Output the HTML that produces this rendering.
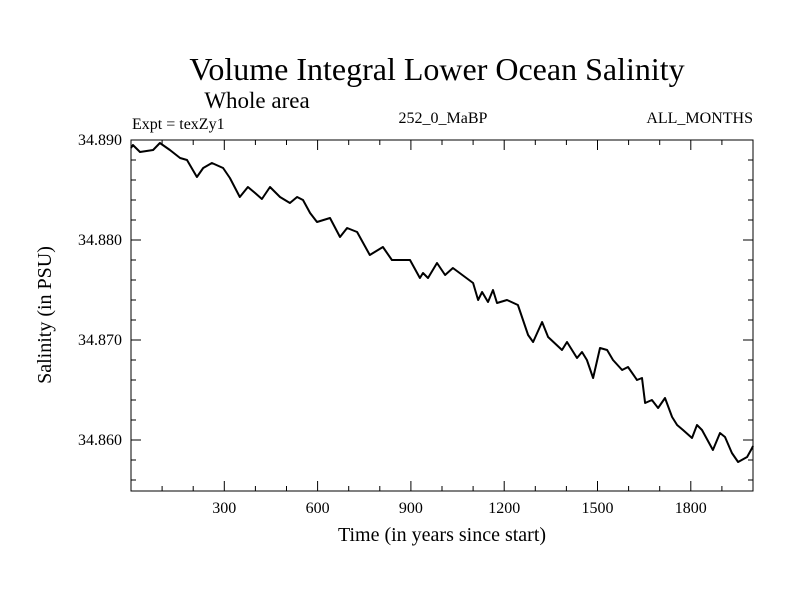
<!DOCTYPE html>
<html><head><meta charset="utf-8"><style>
body{margin:0;background:#fff}
svg{display:block;font-family:"Liberation Serif",serif}
</style></head><body>
<svg id="chart" width="800" height="600">
<rect width="800" height="600" fill="#fff"/>
<text x="437" y="80" font-size="32" text-anchor="middle">Volume Integral Lower Ocean Salinity</text>
<text x="257" y="108" font-size="23" text-anchor="middle">Whole area</text>
<text x="132" y="129" font-size="16">Expt = texZy1</text>
<text x="443" y="123" font-size="16" text-anchor="middle">252_0_MaBP</text>
<text x="753" y="123" font-size="16" text-anchor="end">ALL_MONTHS</text>
<text transform="translate(51,315) rotate(-90)" font-size="20" text-anchor="middle">Salinity (in PSU)</text>
<text x="442" y="541" font-size="20" text-anchor="middle">Time (in years since start)</text>
<g id="axes"></g>
<path id="series" fill="none" stroke="#000" stroke-width="2" stroke-linejoin="round"/>
<rect x="131" y="140" width="622" height="351" fill="none" stroke="#000" stroke-width="1"/>
</svg>
<script>
const years=[0,6,29,71,93,125,158,180,212,232,260,296,318,350,376,399,421,447,479,511,534,553,576,598,640,672,695,727,768,810,839,887,897,929,939,955,984,1010,1035,1100,1116,1129,1148,1164,1177,1209,1244,1277,1293,1322,1341,1386,1402,1434,1450,1466,1486,1508,1531,1550,1579,1598,1627,1643,1653,1675,1695,1717,1740,1756,1775,1804,1820,1836,1871,1894,1910,1932,1952,1981,1997,2000];
const salinity=[34.8892,34.8895,34.8888,34.8890,34.8897,34.8890,34.8882,34.8880,34.8863,34.8872,34.8877,34.8872,34.8862,34.8843,34.8853,34.8847,34.8841,34.8853,34.8843,34.8837,34.8843,34.8840,34.8827,34.8818,34.8822,34.8803,34.8812,34.8808,34.8785,34.8793,34.8780,34.8780,34.8780,34.8762,34.8767,34.8762,34.8777,34.8765,34.8772,34.8757,34.8740,34.8748,34.8738,34.8750,34.8737,34.8740,34.8735,34.8705,34.8698,34.8718,34.8703,34.8690,34.8698,34.8682,34.8688,34.8680,34.8662,34.8692,34.8690,34.8680,34.8670,34.8673,34.8660,34.8662,34.8637,34.8640,34.8632,34.8642,34.8623,34.8615,34.8610,34.8602,34.8615,34.8610,34.8590,34.8607,34.8603,34.8587,34.8578,34.8583,34.8592,34.8594];
const xTickLabels=[300,600,900,1200,1500,1800];
const yTickLabels=["34.860","34.870","34.880","34.890"];
const L=131,R=753,T=140,B=491,X0=0,X1=2000,Y0=34.8549,Y1=34.890;
const xs=v=>L+(v-X0)/(X1-X0)*(R-L);
const ys=v=>B-(v-Y0)/(Y1-Y0)*(B-T);
const NS="http://www.w3.org/2000/svg";
const ax=document.getElementById('axes');
function line(x1,y1,x2,y2,name){const l=document.createElementNS(NS,'line');
l.setAttribute('x1',x1);l.setAttribute('y1',y1);l.setAttribute('x2',x2);l.setAttribute('y2',y2);l.setAttribute('stroke','#000');


ax.appendChild(l);}
function text(x,y,s,anchor,name){const t=document.createElementNS(NS,'text');
t.setAttribute('x',x);t.setAttribute('y',y);t.setAttribute('font-size','16');t.setAttribute('text-anchor',anchor);t.textContent=s;


ax.appendChild(t);}
for(let yr=100;yr<2000;yr+=100){const x=xs(yr),len=yr%300===0?10:5;line(x,B,x,B-len,'x-tick');line(x,T,x,T+len,'x-tick-top');}
xTickLabels.forEach(v=>text(xs(v),B+22,String(v),'middle','x-tick-label'));
for(let k=0;k<=17;k++){const v=34.856+k*0.002;const y=ys(v);if(y<T-0.5)break;const len=(k%5===2)?10:5;line(L,y,L+len,y,'y-tick');line(R,y,R-len,y,'y-tick-right');}
yTickLabels.forEach(s=>text(L-9,ys(parseFloat(s))+5,s,'end','y-tick-label'));
document.getElementById('series').setAttribute('d',years.map((y,i)=>(i?'L':'M')+xs(y).toFixed(1)+','+ys(salinity[i]).toFixed(1)).join(''));
</script>
</body></html>
